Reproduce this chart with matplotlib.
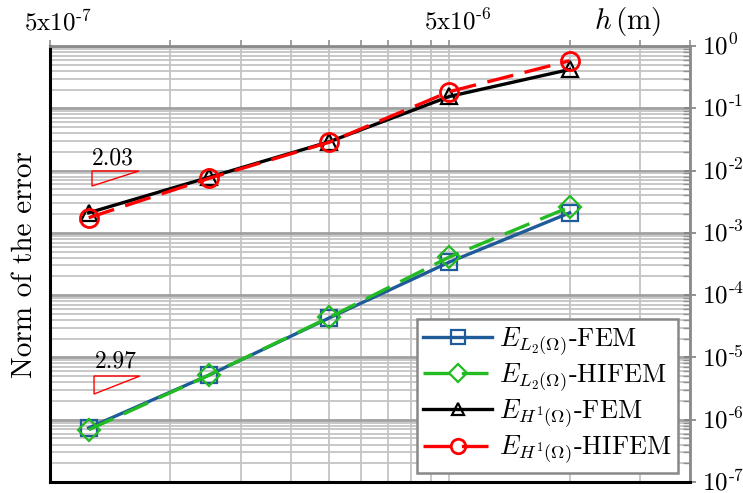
import matplotlib
matplotlib.use("Agg")
import matplotlib.pyplot as plt
from matplotlib.ticker import FixedLocator, NullFormatter, LogLocator
from matplotlib.patches import Polygon
from matplotlib.transforms import ScaledTranslation

plt.rcParams['mathtext.fontset'] = 'cm'
plt.rcParams['font.family'] = ['cmr10', 'DejaVu Serif']
plt.rcParams['axes.unicode_minus'] = False

# ---- data ----
h = [6.25e-7, 1.25e-6, 2.5e-6, 5e-6, 1e-5]
err_L2_FEM = [7.4e-7, 5.2e-6, 4.3e-5, 3.4e-4, 2.1e-3]
err_L2_HIFEM = [6.9e-7, 5.2e-6, 4.4e-5, 4.1e-4, 2.6e-3]
err_H1_FEM = [2.1e-3, 7.8e-3, 2.9e-2, 0.155, 0.42]
err_H1_HIFEM = [1.75e-3, 7.5e-3, 2.85e-2, 0.185, 0.58]

labels = [r'$E_{L_2(\Omega)}$-FEM', r'$E_{L_2(\Omega)}$-HIFEM',
          r'$E_{H^1(\Omega)}$-FEM', r'$E_{H^1(\Omega)}$-HIFEM']
slope_L2 = '2.97'
slope_H1 = '2.03'

x_grid_ticks = [5e-7, 1e-6, 1.5e-6, 2e-6, 2.5e-6, 3e-6, 3.5e-6, 4e-6, 4.5e-6,
                5e-6, 1e-5, 1.5e-5, 2e-5]
x_label_ticks = [5e-7, 5e-6]
x_tick_labels = [r'$5\mathrm{x}10^{\text{-}7}$', r'$5\mathrm{x}10^{\text{-}6}$']
y_major = [1e-7, 1e-6, 1e-5, 1e-4, 1e-3, 1e-2, 1e-1, 1e0]
y_tick_labels = [r'$10^{\text{-}7}$', r'$10^{\text{-}6}$', r'$10^{\text{-}5}$',
                 r'$10^{\text{-}4}$', r'$10^{\text{-}3}$', r'$10^{\text{-}2}$',
                 r'$10^{\text{-}1}$', r'$10^{0}$']

# ---- figure ----
fig = plt.figure(figsize=(7.43, 4.93), dpi=100)
ax = fig.add_axes([50/743, 1-482/493, 640/743, 436/493])
ax.set_xscale('log')
ax.set_yscale('log')
ax.set_xlim(5e-7, 2e-5)
ax.set_ylim(1e-7, 1e0)

blue = '#1f5b98'
green = '#22bb22'
lw = 2.4
ax.plot(h, err_L2_FEM, color=blue, lw=lw, marker='s', ms=12, mfc='none',
        mew=1.6, label=labels[0], zorder=5)
ax.plot(h, err_L2_HIFEM, color=green, lw=lw, ls=(0, (8, 3.5)), marker='D', ms=11,
        mfc='none', mew=1.6, label=labels[1], zorder=6)
ax.plot(h, err_H1_FEM, color='black', lw=lw, marker='^', ms=11, mfc='none',
        mew=1.6, label=labels[2], zorder=5)
ax.plot(h, err_H1_HIFEM, color='red', lw=lw, ls=(0, (8, 3.5)), marker='o', ms=13,
        mfc='none', mew=2.0, label=labels[3], zorder=6)

# ticks and grid
ax.xaxis.set_major_locator(FixedLocator(x_label_ticks))
ax.xaxis.set_minor_locator(FixedLocator([t for t in x_grid_ticks if t not in x_label_ticks]))
ax.set_xticklabels(x_tick_labels)
ax.xaxis.set_minor_formatter(NullFormatter())
ax.xaxis.tick_top()
ax.xaxis.set_label_position('top')

ax.yaxis.set_major_locator(FixedLocator(y_major))
ax.yaxis.set_minor_locator(LogLocator(base=10, subs=range(2, 10), numticks=20))
ax.set_yticklabels(y_tick_labels)
ax.yaxis.set_minor_formatter(NullFormatter())
ax.yaxis.tick_right()

ax.grid(True, which='major', axis='y', color='#a0a0a0', lw=2.0)
ax.grid(True, which='minor', axis='y', color='#c4c4c4', lw=1.3)
ax.grid(True, which='both', axis='x', color='#c4c4c4', lw=1.3)
ax.set_axisbelow(True)

ax.tick_params(axis='x', which='both', direction='out', length=4, width=1.2,
               color='#909090', labelsize=18, pad=4)
ax.tick_params(axis='y', which='major', direction='inout', length=8, width=1.2,
               color='#808080', labelsize=18, pad=5)
ax.tick_params(axis='y', which='minor', direction='in', length=5, width=1.0,
               color='#909090')

offset = ScaledTranslation(8/100, 0, fig.dpi_scale_trans)
for lab in ax.get_xticklabels():
    lab.set_transform(lab.get_transform() + offset)
yoff = ScaledTranslation(0, 2/100, fig.dpi_scale_trans)
for lab in ax.get_yticklabels():
    lab.set_transform(lab.get_transform() + yoff)

for s in ['left', 'bottom']:
    ax.spines[s].set_color('black')
    ax.spines[s].set_linewidth(2.2)
for s in ['top', 'right']:
    ax.spines[s].set_color('#8a8a8a')
    ax.spines[s].set_linewidth(2.0)

# axis texts
fig.text(628/743, 1-22/493, r'$h\,(\mathrm{m})$', fontsize=21, ha='center', va='center')
fig.text(25/743, 1-265/493, 'Norm of the error', fontsize=21, rotation=90,
         ha='center', va='center')

# slope triangles
tri1 = Polygon([(0.0656, 0.7133), (0.139, 0.7133), (0.0656, 0.6789)], closed=True,
               fill=False, edgecolor='red', lw=1.0, transform=ax.transAxes)
tri2 = Polygon([(0.0688, 0.2431), (0.1406, 0.2431), (0.0688, 0.2018)], closed=True,
               fill=False, edgecolor='red', lw=1.0, transform=ax.transAxes)
ax.add_patch(tri1)
ax.add_patch(tri2)
ax.text(0.098, 0.742, slope_H1, transform=ax.transAxes, fontsize=17,
        ha='center', va='center')
ax.text(0.103, 0.276, slope_L2, transform=ax.transAxes, fontsize=17,
        ha='center', va='center')

leg = ax.legend(loc='lower right', bbox_to_anchor=(0.981, 0.021), fontsize=19,
                frameon=True, fancybox=False, framealpha=1, edgecolor='#888888',
                handlelength=2.6, handletextpad=0.25, borderpad=0.25,
                labelspacing=0.15, borderaxespad=0, markerscale=0.8)
leg.get_frame().set_linewidth(1.8)

fig.savefig('out.png', dpi=100)
